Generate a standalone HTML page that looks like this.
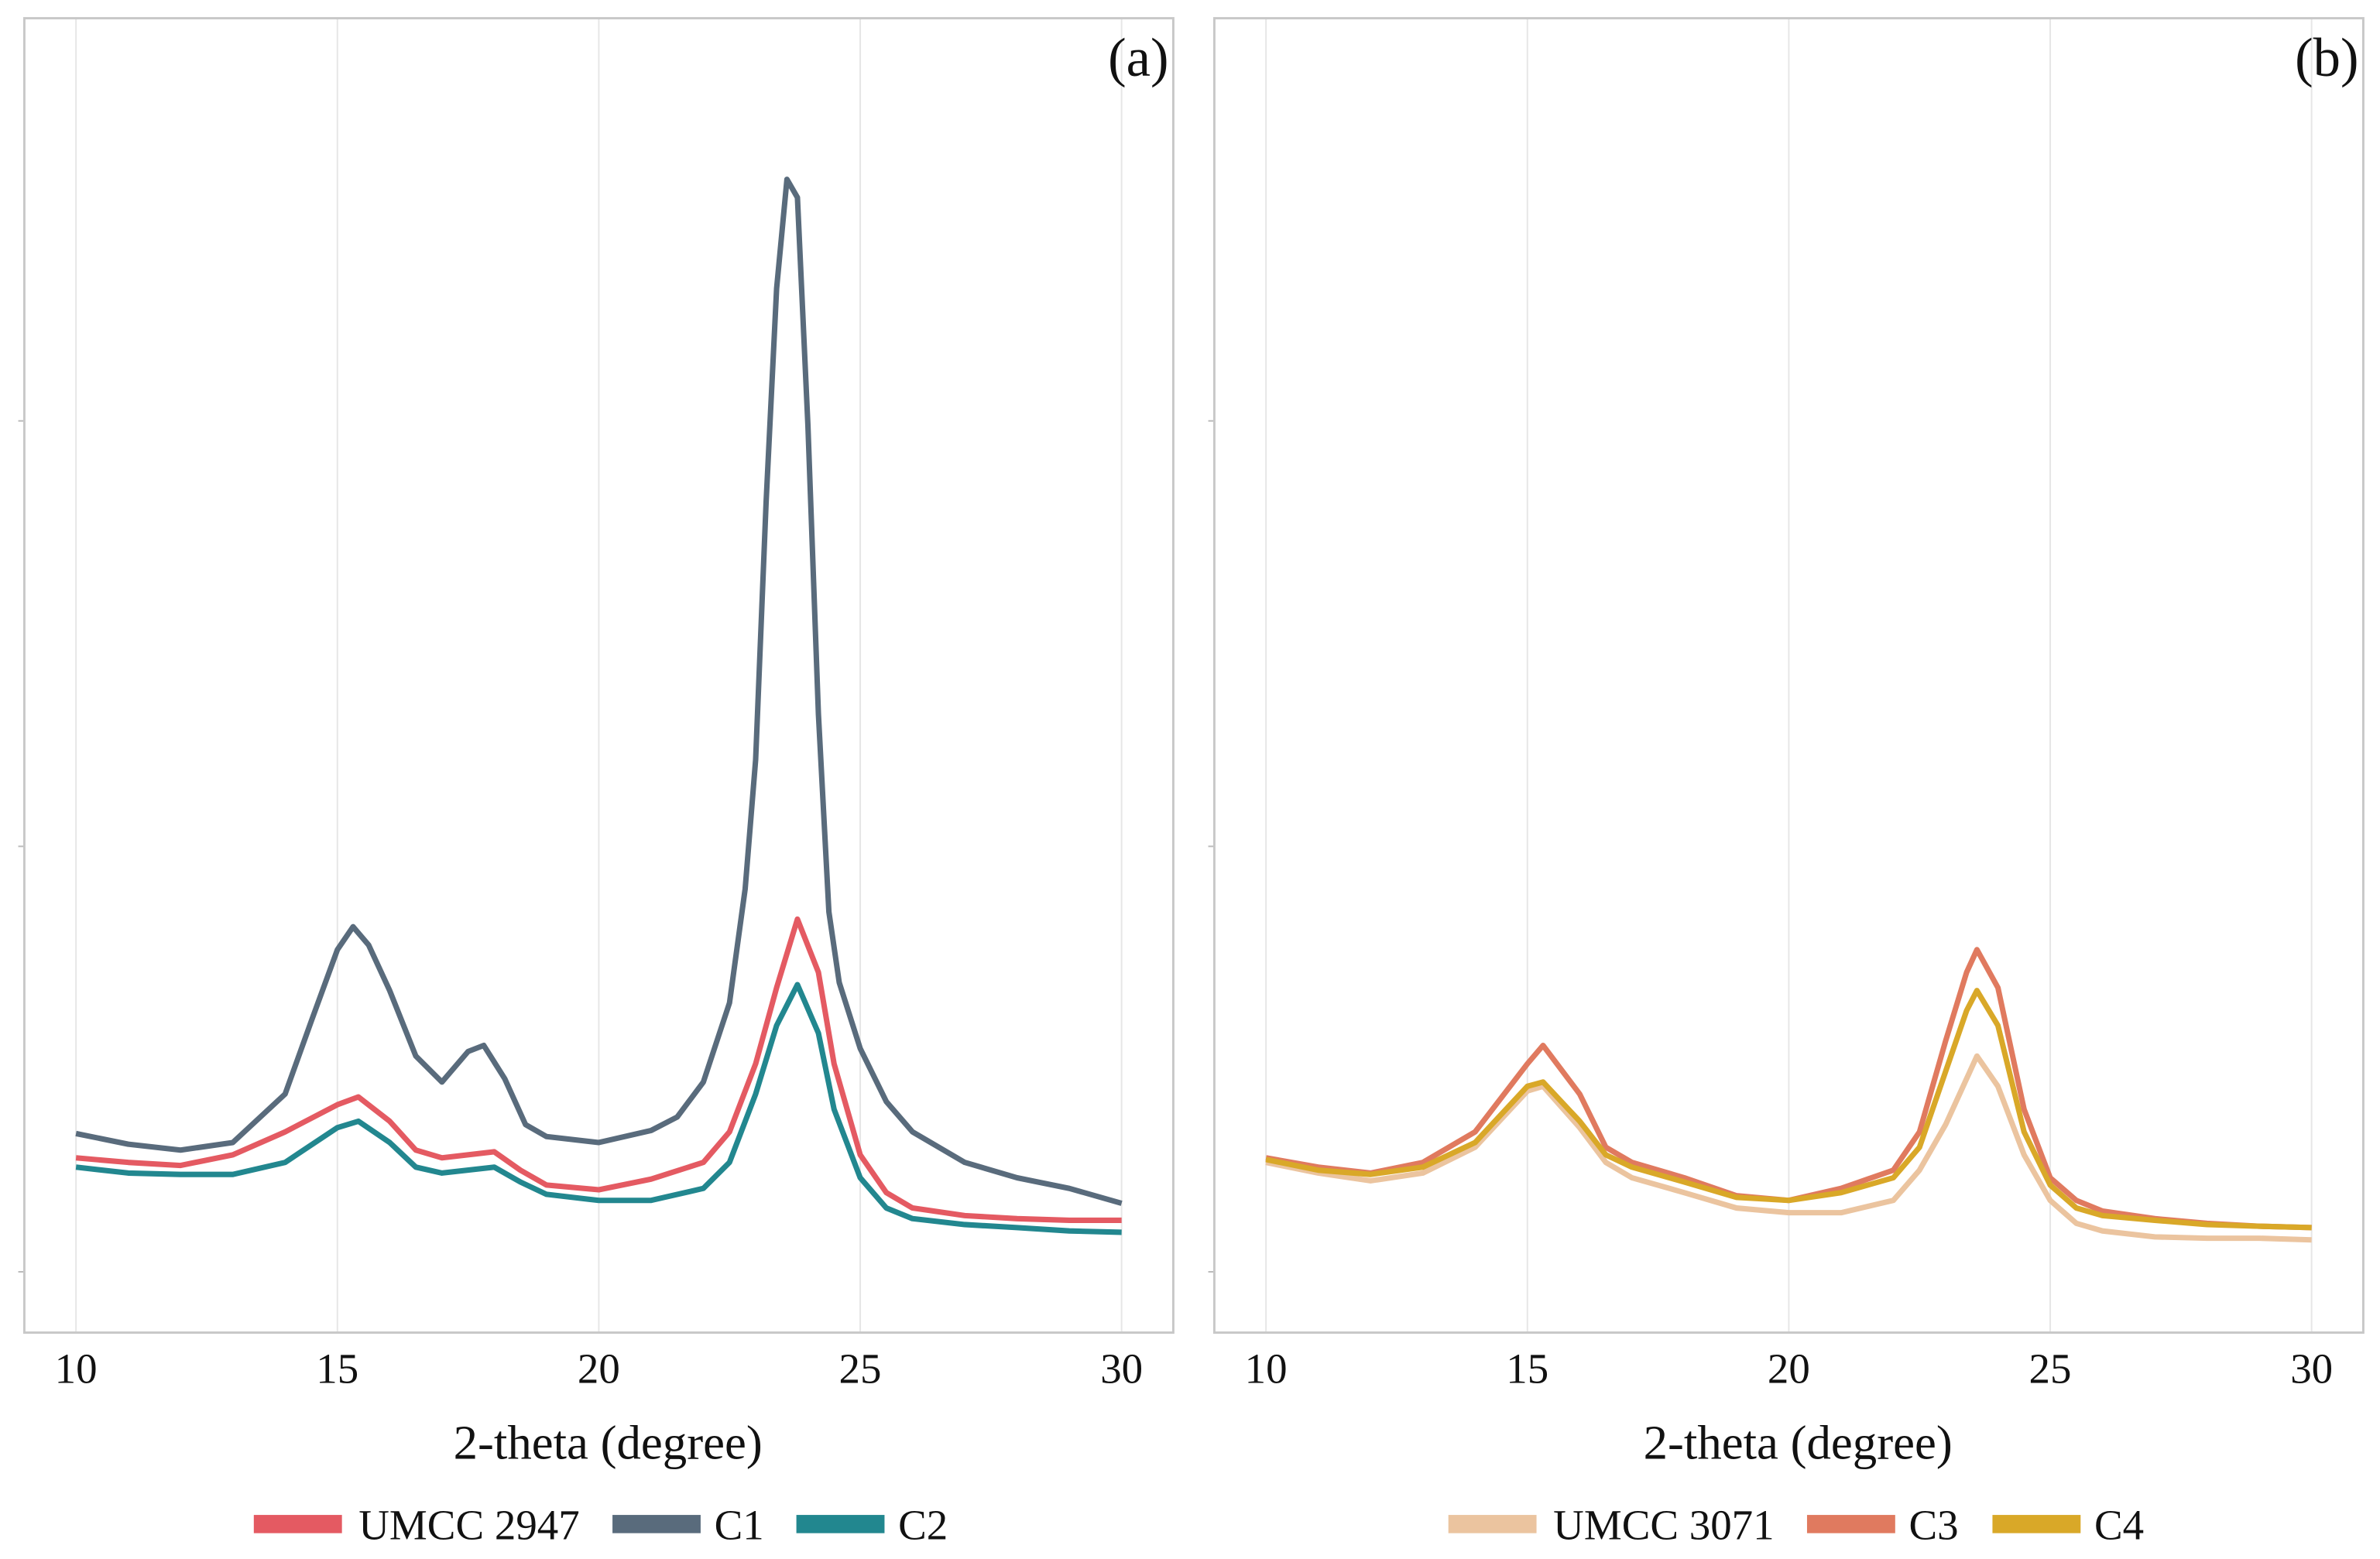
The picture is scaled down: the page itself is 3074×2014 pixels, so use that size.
<!DOCTYPE html>
<html><head><meta charset="utf-8"><style>
html,body{margin:0;padding:0;background:#fff;}
svg{display:block;font-family:"Liberation Serif",serif;}
</style></head><body>
<svg id="chart" width="3074" height="2014" viewBox="0 0 1566 1026" preserveAspectRatio="none" xmlns="http://www.w3.org/2000/svg"></svg>
<script>
const xTicks=[10,15,20,25,30];
const yTicks=[0,1000,2000];
const xA=[10,11,12,13,14,14.5,15,15.3,15.6,16,16.5,17,17.5,17.8,18.2,18.6,19,20,21,21.5,22,22.5,22.8,23,23.2,23.4,23.6,23.8,24,24.2,24.4,24.6,25,25.5,26,27,28,29,30];
const c1=[325,300,286,304,418,589,757,811,768,661,507,446,518,532,454,346,318,304,332,364,446,632,900,1204,1810,2311,2568,2525,1989,1311,846,680,525,400,329,257,221,196,161];
const xB=[10,11,12,13,14,15,15.4,16,16.5,17,18,18.5,19,20,21,22,22.5,23,23.4,23.8,24.2,24.5,25,25.5,26,27,28,29,30];
const umcc2947=[268,257,250,275,329,393,411,354,286,268,282,239,204,193,218,257,329,489,668,829,704,489,275,186,150,132,125,121,121];
const c2=[246,232,229,229,257,339,354,304,246,232,246,211,182,168,168,196,257,418,579,675,561,382,221,150,125,111,104,96,93];
const xC=[10,11,12,13,14,15,15.3,16,16.5,17,18,19,20,21,22,22.5,23,23.4,23.6,24,24.5,25,25.5,26,27,28,29,30];
const umcc3071=[257,232,214,232,293,425,436,339,257,221,186,150,139,139,168,239,346,454,507,436,275,168,114,96,82,79,79,75];
const c3=[268,246,232,257,329,489,532,418,293,257,221,179,168,196,239,329,543,704,757,668,382,221,168,143,125,114,107,104];
const c4=[264,239,229,246,304,436,446,354,275,246,211,175,168,186,221,293,471,614,661,579,329,204,150,132,121,111,107,104];

const NS="http://www.w3.org/2000/svg";
const svg=document.getElementById('chart');
function mk(tag,attrs,parent){const e=document.createElementNS(NS,tag);for(const k in attrs)e.setAttribute(k,attrs[k]);(parent||svg).appendChild(e);return e;}
function yS(v){return 837-v*0.28;}

const panels=[
 {id:'a',left:16,right:772,x0:50,label:'(a)',series:[
   {name:'UMCC 2947',xs:xB,ys:umcc2947,col:'#e45a62'},
   {name:'C1',xs:xA,ys:c1,col:'#596b7c'},
   {name:'C2',xs:xB,ys:c2,col:'#22878f'}],
  legend:[[167,236],[403,470],[524,591]]},
 {id:'b',left:799,right:1555,x0:833,label:'(b)',series:[
   {name:'UMCC 3071',xs:xC,ys:umcc3071,col:'#ebc49f'},
   {name:'C3',xs:xC,ys:c3,col:'#e07a5f'},
   {name:'C4',xs:xC,ys:c4,col:'#d9a828'}],
  legend:[[953,1022],[1189,1256],[1311,1378]]}
];
panels.forEach(p=>{
  const xS=v=>p.x0+(v-10)*34.4;
  const g=mk('g',{});
  
  
  xTicks.forEach(t=>{
    const l=mk('line',{x1:xS(t),x2:xS(t),y1:12,y2:877,stroke:'#e6e6e6','stroke-width':1},g);
    
    
    const tx=mk('text',{x:xS(t),y:910,'font-size':28,'text-anchor':'middle',fill:'#111'},g);
    tx.textContent=t;
    
    
  });
  yTicks.forEach(t=>{
    const l=mk('line',{x1:p.left-4,x2:p.left,y1:yS(t),y2:yS(t),stroke:'#bbb','stroke-width':1},g);
    
    
  });
  p.series.forEach(s=>{
    const d=s.xs.map((x,i)=>(i?'L':'M')+xS(x).toFixed(1)+','+yS(s.ys[i]).toFixed(1)).join(' ');
    const path=mk('path',{d:d,fill:'none',stroke:s.col,'stroke-width':3.6,'stroke-linejoin':'round'},g);
    
    
  });
  const r=mk('rect',{x:p.left,y:12,width:p.right-p.left,height:865,fill:'none',stroke:'#c8c8c8','stroke-width':1.5},g);
  
  
  const lb=mk('text',{x:p.right-3,y:50,'font-size':36,'text-anchor':'end',fill:'#111'},g);
  lb.textContent=p.label;
  
  
  const at=mk('text',{x:(p.left+p.right)/2+6,y:960,'font-size':32,'text-anchor':'middle',fill:'#111'},g);
  at.textContent='2-theta (degree)';
  
  
  p.series.forEach((s,i)=>{
    const [sx,tx0]=p.legend[i];
    const sw=mk('rect',{x:sx,y:997,width:58,height:12,fill:s.col},g);
    
    
    const t=mk('text',{x:tx0,y:1013,'font-size':28,fill:'#111'},g);
    t.textContent=s.name;
    
    
  });
});
</script>
</body></html>
